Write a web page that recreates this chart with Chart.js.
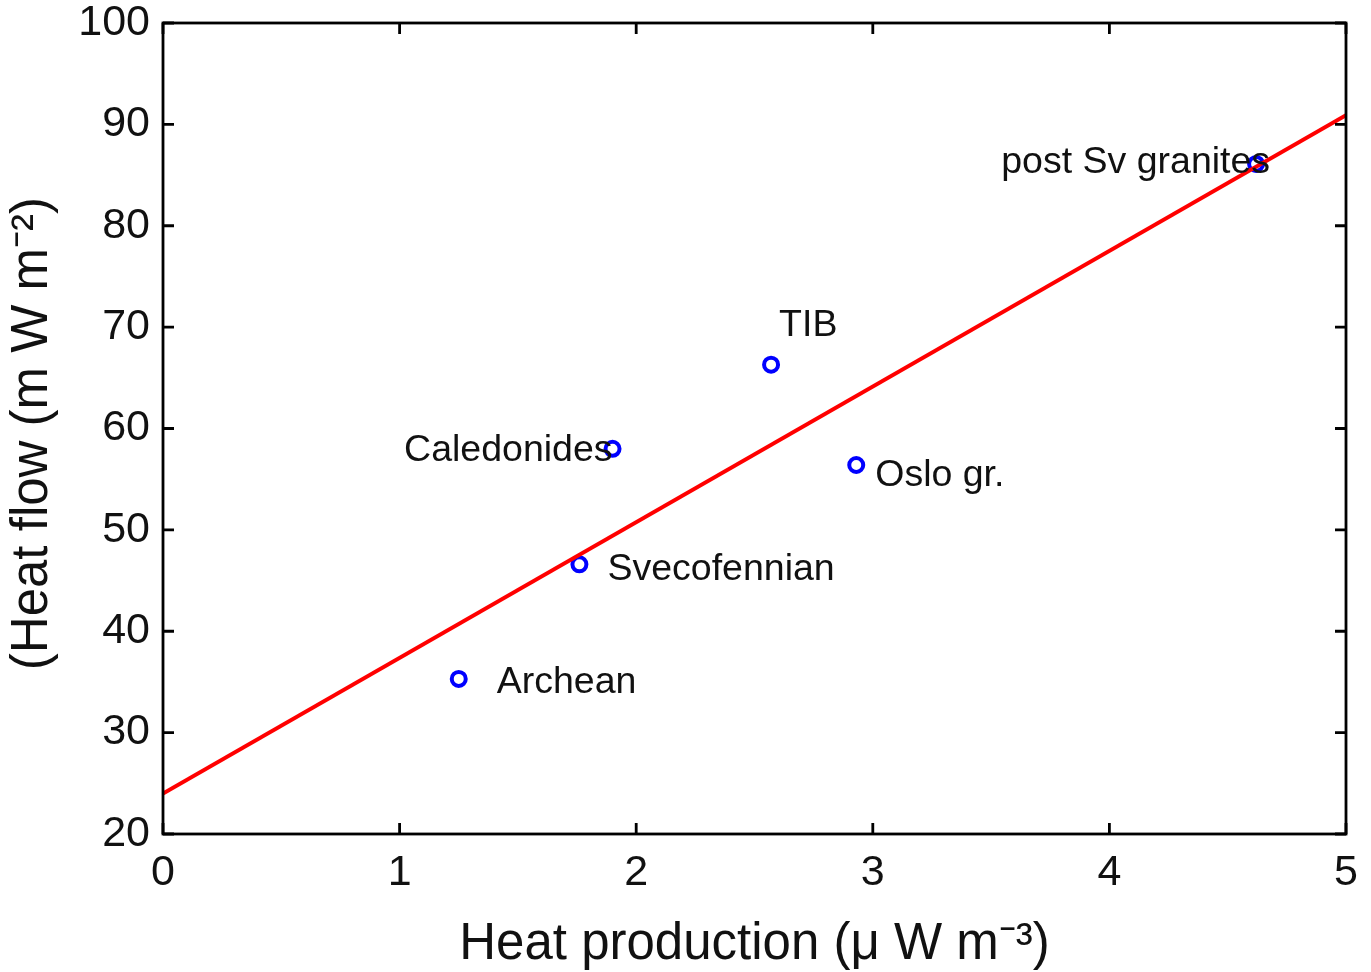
<!DOCTYPE html>
<html>
<head>
<meta charset="utf-8">
<script src="https://cdn.jsdelivr.net/npm/chart.js@4"></script>
<style>
html,body{margin:0;padding:0;background:#fff;}
#wrap{width:1371px;height:972px;position:relative;}
</style>
</head>
<body>
<div id="wrap"><canvas id="c" width="1371" height="972"></canvas></div>
<script>
// ---- data ----
const siteNames = ["Archean", "Svecofennian", "Caledonides", "TIB", "Oslo gr.", "post Sv granites"];
const heatProduction = [1.25, 1.76, 1.90, 2.57, 2.93, 4.62];
const heatFlow = [35.3, 46.6, 58.0, 66.3, 56.4, 86.1];
const fitX = [0, 5];
const fitY = [24.0, 90.9];
const xTicks = [0, 1, 2, 3, 4, 5];
const yTicks = [20, 30, 40, 50, 60, 70, 80, 90, 100];

// label placement (pixels, relative to point)
const labelStyle = [
  {dx: 38, dy: 4, align: "left"},
  {dx: 28, dy: 5, align: "left"},
  {dx: 0, dy: 2, align: "right"},
  {dx: 8, dy: -39, align: "left"},
  {dx: 19, dy: 11, align: "left"},
  {dx: 14, dy: -1, align: "right"}
];

const FONT = "'Liberation Sans', Arial, Helvetica, sans-serif";

const pointData = heatProduction.map((x, i) => ({x: x, y: heatFlow[i]}));
const lineData = fitX.map((x, i) => ({x: x, y: fitY[i]}));

const boxPlugin = {
  id: "boxTicks",
  afterDatasetsDraw(chart) {
    const ctx = chart.ctx;
    const a = chart.chartArea;
    const xs = chart.scales.x, ys = chart.scales.y;
    // labels
    ctx.save();
    ctx.font = "37.5px " + FONT;
    ctx.fillStyle = "#111";
    ctx.textBaseline = "middle";
    siteNames.forEach((name, i) => {
      const px = xs.getPixelForValue(heatProduction[i]);
      const py = ys.getPixelForValue(heatFlow[i]);
      const st = labelStyle[i];
      ctx.textAlign = st.align;
      ctx.fillText(name, px + st.dx, py + st.dy);
    });
    ctx.restore();
    // box and inward ticks
    ctx.save();
    ctx.strokeStyle = "#000";
    ctx.lineWidth = 2.8;
    ctx.strokeRect(a.left, a.top, a.right - a.left, a.bottom - a.top);
    const L = 11;
    ctx.beginPath();
    xTicks.forEach(v => {
      const p = xs.getPixelForValue(v);
      ctx.moveTo(p, a.bottom); ctx.lineTo(p, a.bottom - L);
      ctx.moveTo(p, a.top); ctx.lineTo(p, a.top + L);
    });
    yTicks.forEach(v => {
      const p = ys.getPixelForValue(v);
      ctx.moveTo(a.left, p); ctx.lineTo(a.left + L, p);
      ctx.moveTo(a.right, p); ctx.lineTo(a.right - L, p);
    });
    ctx.stroke();
    ctx.restore();
  }
};

new Chart(document.getElementById("c"), {
  type: "scatter",
  data: {
    datasets: [
      {
        label: "fit",
        type: "line",
        data: lineData,
        borderColor: "#ff0000",
        borderWidth: 4,
        pointRadius: 0,
        fill: false,
        tension: 0
      },
      {
        label: "sites",
        data: pointData,
        pointStyle: "circle",
        pointRadius: 7,
        borderColor: "#0000ff",
        backgroundColor: "rgba(0,0,0,0)",
        pointBorderWidth: 4,
        borderWidth: 4
      }
    ]
  },
  options: {
    responsive: false,
    animation: false,
    devicePixelRatio: 1,
    layout: {padding: {top: 23, right: 25, left: 0, bottom: 0}},
    plugins: {legend: {display: false}, tooltip: {enabled: false}},
    scales: {
      x: {
        type: "linear",
        min: 0, max: 5,
        afterBuildTicks: s => { s.ticks = xTicks.map(v => ({value: v})); },
        afterFit: s => { s.height = 138; s.paddingLeft = 0; s.paddingRight = 0; s.paddingTop = 0; s.paddingBottom = 0; },
        grid: {display: false, drawTicks: false},
        border: {display: false},
        ticks: {font: {size: 43, family: FONT}, color: "#111", padding: 13, maxRotation: 0},
        title: {display: true, text: "Heat production (μ W m⁻³)", color: "#111",
                font: {size: 51, family: FONT, lineHeight: 1.05}, padding: {top: 0, bottom: 0}}
      },
      y: {
        type: "linear",
        min: 20, max: 100,
        afterBuildTicks: s => { s.ticks = yTicks.map(v => ({value: v})); },
        afterFit: s => { s.width = 163; s.paddingLeft = 0; s.paddingRight = 0; s.paddingTop = 0; s.paddingBottom = 0; },
        grid: {display: false, drawTicks: false},
        border: {display: false},
        ticks: {font: {size: 43, family: FONT}, color: "#111", padding: 13},
        title: {display: true, text: "(Heat flow (m W m⁻²)\u2009", color: "#111",
                font: {size: 51, family: FONT}, padding: {top: 2, bottom: 0}}
      }
    }
  },
  plugins: [boxPlugin]
});
</script>
</body>
</html>
